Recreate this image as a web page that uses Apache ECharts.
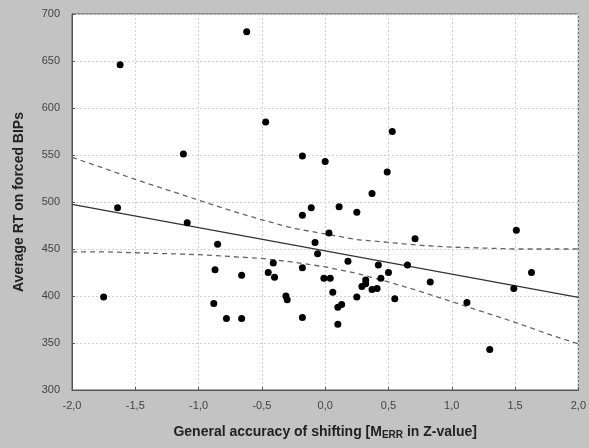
<!DOCTYPE html>
<html>
<head>
<meta charset="utf-8">
<script src="https://cdn.jsdelivr.net/npm/echarts@6/dist/echarts.min.js"></script>
<style>
  html, body { margin: 0; padding: 0; background: #c3c3c3; }
  #chart { width: 589px; height: 448px; }
</style>
</head>
<body>
<div id="chart"></div>
<script>
// x = general accuracy of shifting (M_ERR, Z), y = average RT on forced BIPs
var pointsX = [-1.62, -0.62, -1.12, -0.47, -0.18, 0.0, -1.64, -1.09, -0.18, -0.11,
  0.53, 0.49, 0.37, 0.11, 0.25, 1.51, -0.85, -0.08, -0.06, 0.03,
  -1.75, -0.87, -0.66, -0.41, -0.45, -0.40, -0.18, -0.01, 0.04, -0.88,
  -0.78, -0.66, -0.31, -0.30, -0.18, 0.71, 0.18, 0.42, 0.65, 0.50,
  1.63, 0.44, 0.32, 0.32, 0.29, 0.37, 0.41, 0.83, 1.49, 0.06,
  0.25, 0.55, 1.12, 0.13, 0.10, 0.10, 1.30]
var pointsY = [646, 681, 551, 585, 549, 543, 494, 478, 486, 494,
  575, 532, 509, 495, 489, 470, 455, 457, 445, 467,
  399, 428, 422, 435, 425, 420, 430, 419, 419, 392,
  376, 376, 400, 396, 377, 461, 437, 433, 433, 425,
  425, 419, 417, 413, 410, 407, 408, 415, 408, 404,
  399, 397, 393, 391, 388, 370, 343]

// regression line and 95% band
var fitX = [-2, 2]
var fitY = [497.5, 398.5]
var bandX = [-2, -1.75, -1.5, -1.25, -1, -0.75, -0.5, -0.25, 0,
  0.25, 0.5, 0.75, 1, 1.25, 1.5, 1.75, 2]
var upperY = [547.5, 536, 524, 513, 502, 491, 481, 472, 466,
  460, 457, 454, 452, 451, 450, 450, 450]
var lowerY = [447, 447, 446, 445, 444, 442, 440, 436, 431,
  424, 415, 405, 394, 383, 372, 360, 349]

function zip(xs, ys) {
  return xs.map(function (x, i) { return [x, ys[i]] })
}

var chart = echarts.init(document.getElementById('chart'))
var labelFont = { color: '#444', fontSize: 11, fontFamily: 'Liberation Sans' }

var option = {
  backgroundColor: '#c3c3c3',
  animation: false,
  grid: {
    left: 72, right: 9, top: 14, bottom: 58,
    show: true,
    backgroundColor: '#ffffff',
    borderColor: '#555',
    borderWidth: 1
  },
  xAxis: {
    type: 'value',
    min: -2, max: 2, interval: 0.5,
    axisLine: { onZero: false, lineStyle: { color: '#555' } },
    axisTick: { inside: true, length: 3, lineStyle: { color: '#555' } },
    splitLine: { lineStyle: { color: '#d0d0d0', type: [2, 2] } },
    axisLabel: Object.assign({
      margin: 10,
      formatter: function (v) { return v.toFixed(1).replace('.', ',') }
    }, labelFont),
    name: '{n|General accuracy of shifting [M}{s|ERR}{n| in Z-value]}',
    nameLocation: 'middle',
    nameGap: 34,
    nameTextStyle: {
      rich: {
        n: { fontSize: 14, fontWeight: 'bold', color: '#222', fontFamily: 'Liberation Sans' },
        s: { fontSize: 10, fontWeight: 'bold', color: '#222', fontFamily: 'Liberation Sans', padding: [6, 0, 0, 0] }
      }
    }
  },
  yAxis: {
    type: 'value',
    min: 300, max: 700, interval: 50,
    axisLine: { show: true, onZero: false, lineStyle: { color: '#555' } },
    axisTick: { show: true, inside: true, length: 3, lineStyle: { color: '#555' } },
    splitLine: { lineStyle: { color: '#d0d0d0', type: [2, 2] } },
    axisLabel: Object.assign({ margin: 12 }, labelFont),
    name: 'Average RT on forced BIPs',
    nameLocation: 'middle',
    nameGap: 46,
    nameTextStyle: { fontSize: 14, fontWeight: 'bold', color: '#222', fontFamily: 'Liberation Sans' }
  },
  series: [
    {
      type: 'line',
      data: zip(fitX, fitY),
      symbol: 'none',
      lineStyle: { color: '#333', width: 1.3 },
      z: 3
    },
    {
      type: 'line',
      data: zip(bandX, upperY),
      symbol: 'none',
      lineStyle: { color: '#666', width: 1.3, type: [5, 4] },
      z: 3
    },
    {
      type: 'line',
      data: zip(bandX, lowerY),
      symbol: 'none',
      lineStyle: { color: '#666', width: 1.3, type: [5, 4] },
      z: 3
    },
    {
      type: 'scatter',
      data: zip(pointsX, pointsY),
      symbol: 'circle',
      symbolSize: 7,
      itemStyle: { color: '#000', opacity: 1 },
      z: 5
    }
  ]
}
chart.setOption(option)
</script>
</body>
</html>
